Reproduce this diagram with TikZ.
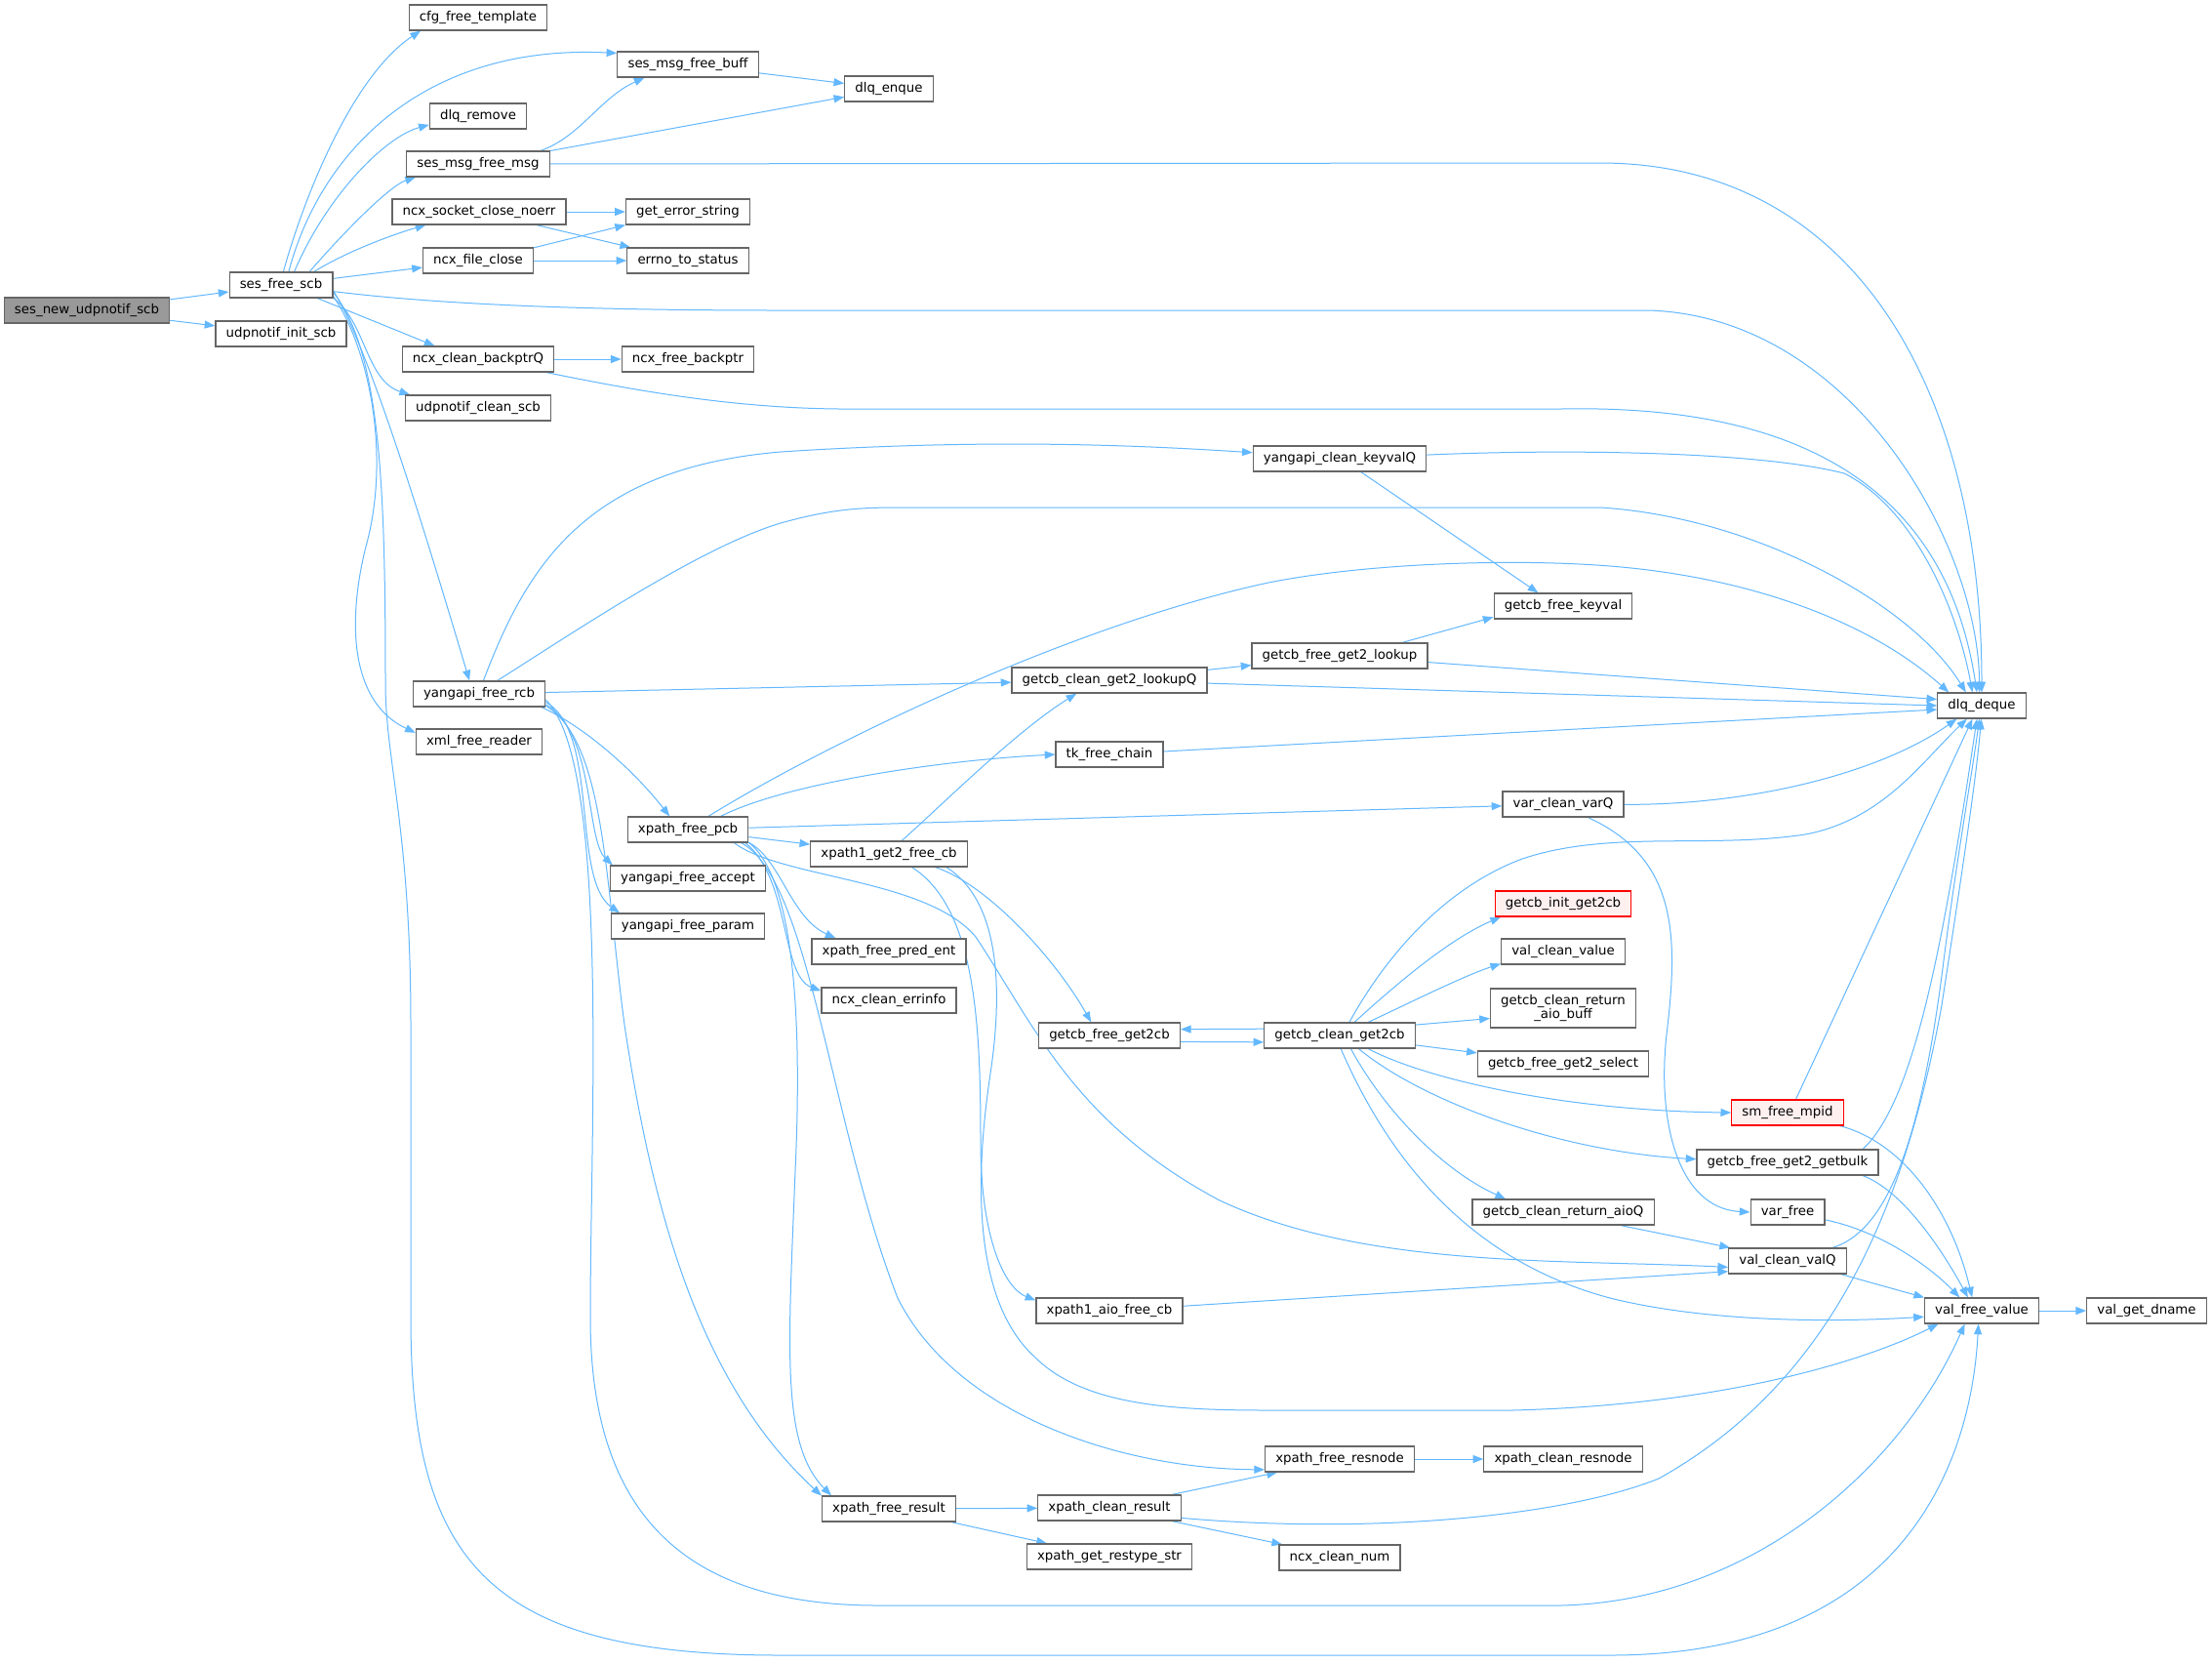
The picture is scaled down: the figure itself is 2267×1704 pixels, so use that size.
\documentclass[tikz,border=0pt]{standalone}
\usepackage{fontspec}
\setmainfont{DejaVu Sans}
\usetikzlibrary{arrows.meta}
\usetikzlibrary{backgrounds}

\definecolor{edgeblue}{HTML}{63B8FF}
\definecolor{boxgray}{HTML}{666666}
\definecolor{rootgray}{HTML}{999999}
\definecolor{redfill}{HTML}{FFF0F0}

\begin{document}
\begin{tikzpicture}[x=0.75pt,y=-0.75pt,
fn/.style={draw=boxgray,line width=0.9pt,fill=white,font=\fontsize{10}{10}\selectfont,
  inner xsep=8pt,inner ysep=0pt,minimum height=19.5pt},
rootfn/.style={fn,fill=rootgray},
redfn/.style={fn,draw=red,fill=redfill},
callarrow/.style={draw=edgeblue,line width=0.75pt,-{Triangle[length=8pt,width=6pt]}}]
\useasboundingbox (0,0) rectangle (2267,1704);

\node[rootfn] (newscb) at (89,318) {ses\_new\_udpnotif\_scb};
\node[fn] (freescb) at (288,292) {ses\_free\_scb};
\node[fn] (initscb) at (288,342) {udpnotif\_init\_scb};
\node[fn] (cfgtmpl) at (490,18) {cfg\_free\_template};
\node[fn] (freebuff) at (705,66) {ses\_msg\_free\_buff};
\node[fn] (enque) at (911,91) {dlq\_enque};
\node[fn] (remove) at (490,119) {dlq\_remove};
\node[fn] (freemsg) at (490,168) {ses\_msg\_free\_msg};
\node[fn] (sockclose) at (491,217) {ncx\_socket\_close\_noerr};
\node[fn] (errstr) at (705,217) {get\_error\_string};
\node[fn] (fileclose) at (490,267) {ncx\_file\_close};
\node[fn] (errno) at (705,267) {errno\_to\_status};
\node[fn] (backptrq) at (490,368) {ncx\_clean\_backptrQ};
\node[fn] (freebackptr) at (705,368) {ncx\_free\_backptr};
\node[fn] (cleanscb) at (490,418) {udpnotif\_clean\_scb};
\node[fn] (keyvalq) at (1373,470) {yangapi\_clean\_keyvalQ};
\node[fn] (keyval) at (1602,621) {getcb\_free\_keyval};
\node[fn] (deque) at (2031,723) {dlq\_deque};
\node[fn] (rcb) at (491,711) {yangapi\_free\_rcb};
\node[fn] (reader) at (491,760) {xml\_free\_reader};
\node[fn] (lookup) at (1373,672) {getcb\_free\_get2\_lookup};
\node[fn] (lookupq) at (1137,697) {getcb\_clean\_get2\_lookupQ};
\node[fn] (tkchain) at (1137,773) {tk\_free\_chain};
\node[fn] (varq) at (1602,824) {var\_clean\_varQ};
\node[fn] (pcb) at (705,850) {xpath\_free\_pcb};
\node[fn] (gettwocb) at (911,875) {xpath1\_get2\_free\_cb};
\node[fn] (accept) at (705,900) {yangapi\_free\_accept};
\node[redfn] (initcb) at (1602,926) {getcb\_init\_get2cb};
\node[fn] (param) at (705,949) {yangapi\_free\_param};
\node[fn] (predent) at (911,975) {xpath\_free\_pred\_ent};
\node[fn] (cleanvalue) at (1602,975) {val\_clean\_value};
\node[fn,align=center,minimum height=30pt] (aiobuff) at (1602,1033) {getcb\_clean\_return\\\_aio\_buff};
\node[fn] (errinfo) at (911,1025) {ncx\_clean\_errinfo};
\node[fn] (freecb) at (1137,1061) {getcb\_free\_get2cb};
\node[fn] (cleancb) at (1373,1061) {getcb\_clean\_get2cb};
\node[fn] (select) at (1602,1090) {getcb\_free\_get2\_select};
\node[redfn] (mpid) at (1832,1140) {sm\_free\_mpid};
\node[fn] (getbulk) at (1832,1191) {getcb\_free\_get2\_getbulk};
\node[fn] (aioq) at (1602,1242) {getcb\_clean\_return\_aioQ};
\node[fn] (varfree) at (1832,1242) {var\_free};
\node[fn] (valq) at (1832,1292) {val\_clean\_valQ};
\node[fn] (aiocb) at (1137,1343) {xpath1\_aio\_free\_cb};
\node[fn] (freevalue) at (2031,1343) {val\_free\_value};
\node[fn] (dname) at (2200,1343) {val\_get\_dname};
\node[fn] (resnode) at (1373,1495) {xpath\_free\_resnode};
\node[fn] (cleanresnode) at (1602,1495) {xpath\_clean\_resnode};
\node[fn] (freeresult) at (911,1546) {xpath\_free\_result};
\node[fn] (cleanresult) at (1137,1545) {xpath\_clean\_result};
\node[fn] (restype) at (1137,1595) {xpath\_get\_restype\_str};
\node[fn] (cleannum) at (1373,1596) {ncx\_clean\_num};

\begin{scope}[on background layer]
\fill[white] (0,0) rectangle (2267,1704);
\begin{scope}[callarrow]
\draw (newscb) -- (freescb);
\draw (newscb) -- (initscb);
\draw (freescb.80) .. controls (315,190) and (365,75) .. (cfgtmpl.193);
\draw (freescb.60) .. controls (330,150) and (440,45) .. (freebuff.171);
\draw (freescb.45) .. controls (335,200) and (395,140) .. (remove.190);
\draw (freescb.25) .. controls (355,235) and (400,190) .. (freemsg.192);
\draw (freescb.22) .. controls (360,255) and (410,238) .. (sockclose.194);
\draw (freescb) -- (fileclose);
\draw (freescb) .. controls (450,312) and (600,318) .. (800,318) -- (1690,318)
  .. controls (1900,325) and (2028,560) .. (deque.100);
\draw (freescb.340) -- (backptrq.163);
\draw (freescb.346) .. controls (375,330) and (375,390) .. (cleanscb.169);
\draw (freescb.348) .. controls (380,360) and (400,470) .. (375,560)
  .. controls (355,640) and (360,720) .. (reader.172);
\draw (freescb.352) .. controls (390,360) and (395,500) .. (395,700)
  .. controls (395,780) and (421,850) .. (421,1050) -- (421,1350)
  .. controls (421,1600) and (500,1696) .. (800,1696) -- (1650,1696)
  .. controls (1950,1696) and (2020,1500) .. (freevalue.256);
\draw (freescb.354) .. controls (380,360) and (440,560) .. (rcb.126);

\draw (freemsg.12) .. controls (595,140) and (615,100) .. (freebuff.197);
\draw (freemsg) -- (enque);
\draw (freemsg) -- (1640,167) .. controls (1900,167) and (2031,400) .. (deque.north);
\draw (freebuff) -- (enque);
\draw (sockclose) -- (errstr);
\draw (sockclose.347) -- (errno.167);
\draw (fileclose.13) -- (errstr.192);
\draw (fileclose) -- (errno);
\draw (backptrq) -- (freebackptr);
\draw (backptrq.349) .. controls (650,400) and (750,418) .. (860,419) -- (1600,419)
  .. controls (1800,415) and (1990,470) .. (deque.110);

\draw (keyvalq) .. controls (1600,460) and (1800,462) .. (1890,485)
  .. controls (1960,520) and (2005,620) .. (deque.125);
\draw (keyvalq.328) -- (keyval.152);

\draw (rcb.72) .. controls (540,580) and (600,480) .. (800,463)
  .. controls (1000,450) and (1150,455) .. (keyvalq.176);
\draw (rcb.36) .. controls (600,640) and (720,560) .. (800,536)
  .. controls (850,522) and (880,520) .. (920,520) -- (1640,520)
  .. controls (1800,530) and (1960,620) .. (deque.140);
\draw (rcb) -- (lookupq);
\draw (rcb.348) .. controls (600,745) and (650,790) .. (pcb.144);
\draw (rcb.351) .. controls (610,750) and (600,860) .. (accept.170);
\draw (rcb.353) .. controls (615,750) and (585,900) .. (param.169);
\draw (rcb.350) .. controls (620,760) and (620,900) .. (640,1050)
  .. controls (670,1250) and (720,1420) .. (freeresult.169);
\draw (rcb.355) .. controls (625,780) and (605,1150) .. (605,1350)
  .. controls (605,1550) and (700,1645) .. (900,1645) -- (1600,1645)
  .. controls (1800,1640) and (1950,1500) .. (freevalue.218);

\draw (pcb.33) .. controls (850,760) and (1100,640) .. (1300,597)
  .. controls (1400,577) and (1550,572) .. (1650,580)
  .. controls (1800,592) and (1920,640) .. (deque.158);
\draw (pcb.22) .. controls (800,805) and (950,780) .. (tkchain.west);
\draw (pcb) -- (varq);
\draw (pcb) -- (gettwocb);
\draw (pcb.348) .. controls (800,880) and (810,940) .. (predent.166);
\draw (pcb.347) .. controls (810,900) and (800,1000) .. (errinfo.172);
\draw (pcb.348) .. controls (815,900) and (822,1050) .. (815,1200)
  .. controls (808,1380) and (800,1480) .. (freeresult.167);
\draw (pcb.346) .. controls (830,900) and (850,1150) .. (920,1330)
  .. controls (980,1450) and (1150,1505) .. (resnode.188);
\draw (pcb.344) .. controls (800,900) and (950,900) .. (1000,960)
  .. controls (1060,1050) and (1100,1150) .. (1250,1230)
  .. controls (1400,1300) and (1600,1290) .. (valq.186);

\draw (gettwocb.46) .. controls (960,830) and (1040,750) .. (lookupq.202);
\draw (gettwocb.344) .. controls (1010,905) and (1080,980) .. (freecb.144);
\draw (gettwocb.330) .. controls (1000,930) and (1005,1050) .. (1005,1170)
  .. controls (1005,1270) and (1030,1320) .. (aiocb.172);
\draw (gettwocb.347) .. controls (1020,920) and (1030,1000) .. (1015,1100)
  .. controls (1000,1200) and (995,1330) .. (1060,1390)
  .. controls (1110,1440) and (1200,1445) .. (1300,1445) -- (1550,1445)
  .. controls (1750,1440) and (1900,1400) .. (freevalue.197);

\draw (lookupq) -- (lookup);
\draw (lookupq) -- (deque.180);
\draw (lookup.12) -- (keyval.189);
\draw (lookup) -- (deque.172);
\draw (tkchain) -- (deque.185);
\draw (varq) .. controls (1800,825) and (1930,790) .. (deque.208);
\draw (varq.332) .. controls (1720,880) and (1720,960) .. (1708,1060)
  .. controls (1698,1150) and (1720,1238) .. (varfree.west);
\draw (varfree) .. controls (1930,1262) and (1980,1300) .. (freevalue.149);

\draw (cleancb.175) -- (freecb.5);
\draw (freecb.355) -- (cleancb.185);
\draw (cleancb.54) .. controls (1420,980) and (1480,910) .. (1560,880)
  .. controls (1650,850) and (1750,870) .. (1850,855)
  .. controls (1930,840) and (1970,780) .. (deque.222);
\draw (cleancb.42) .. controls (1440,1000) and (1490,960) .. (initcb.192);
\draw (cleancb.25) .. controls (1450,1025) and (1500,1000) .. (cleanvalue.191);
\draw (cleancb.8) -- (aiobuff.188);
\draw (cleancb) -- (select);
\draw (cleancb.335) .. controls (1460,1105) and (1600,1138) .. (mpid.west);
\draw (cleancb.325) .. controls (1460,1130) and (1600,1180) .. (getbulk.178);
\draw (cleancb.310) .. controls (1420,1140) and (1480,1200) .. (aioq.167);
\draw (cleancb.275) .. controls (1420,1180) and (1500,1290) .. (1650,1330)
  .. controls (1750,1355) and (1880,1355) .. (freevalue.186);

\draw (mpid.58) -- (deque.235);
\draw (mpid) .. controls (1950,1170) and (2000,1240) .. (freevalue.126);
\draw (getbulk.10) .. controls (1960,1130) and (1990,980) .. (deque.250);
\draw (getbulk.350) .. controls (1950,1220) and (1990,1280) .. (freevalue.136);
\draw (aioq.347) -- (valq.167);
\draw (valq) .. controls (1940,1260) and (1970,1150) .. (1990,1000)
  .. controls (2005,880) and (2020,800) .. (deque.260);
\draw (valq.346) -- (freevalue.167);
\draw (aiocb) -- (valq.190);
\draw (freevalue) -- (dname);
\draw (resnode) -- (cleanresnode);
\draw (freeresult) -- (cleanresult);
\draw (freeresult.348) -- (restype.168);
\draw (cleanresult.12) -- (resnode.192);
\draw (cleanresult.352) .. controls (1400,1572) and (1600,1555) .. (1700,1515)
  .. controls (1870,1420) and (1950,1250) .. (1990,1030)
  .. controls (2010,900) and (2025,800) .. (deque.268);
\draw (cleanresult.348) -- (cleannum.167);
\end{scope}
\end{scope}
\end{tikzpicture}
\end{document}
